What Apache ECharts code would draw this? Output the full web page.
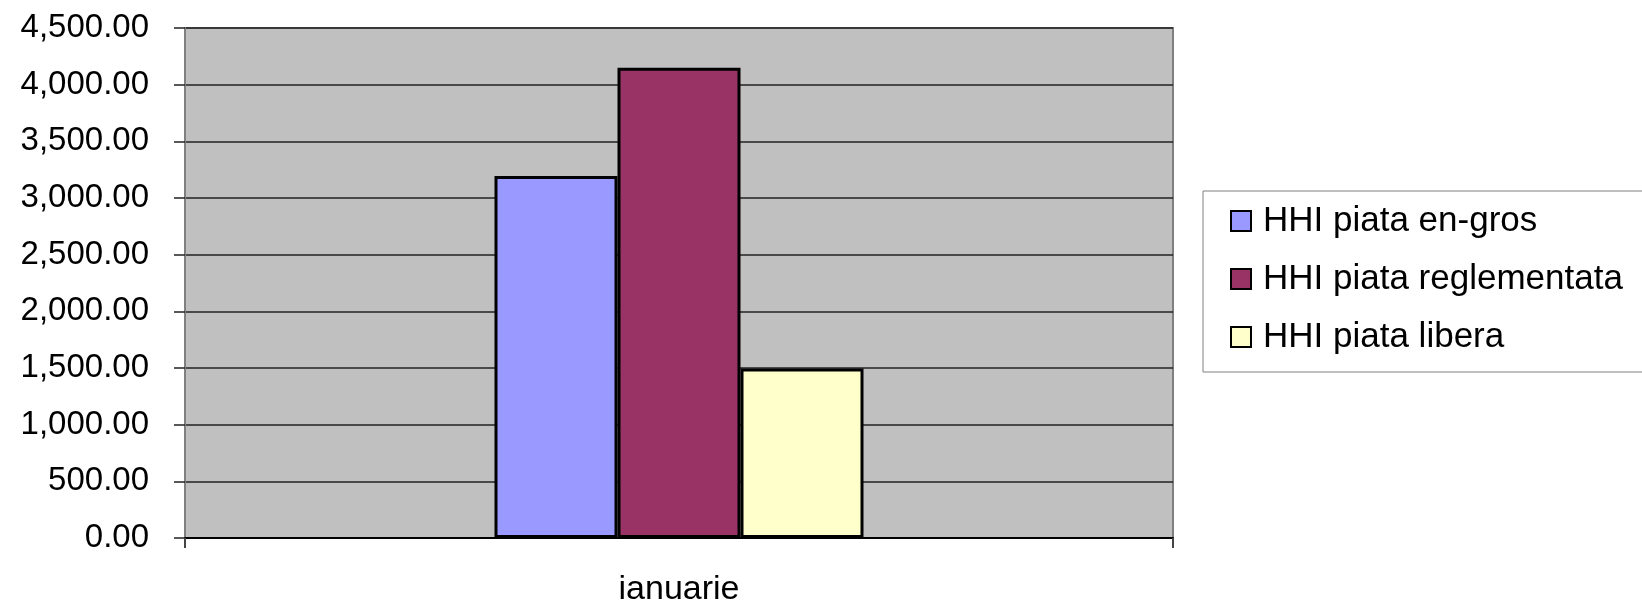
<!DOCTYPE html>
<html>
<head>
<meta charset="utf-8">
<script src="https://cdn.jsdelivr.net/npm/echarts@6/dist/echarts.min.js"></script>
<style>html,body{margin:0;padding:0;background:#fff}#c{width:1642px;height:607px}</style>
</head>
<body>
<div id="c"></div>
<script>
const categories = ['ianuarie'];
const seriesNames = ['HHI piata en-gros', 'HHI piata reglementata', 'HHI piata libera'];
const enGros = [3195];
const reglementata = [4150];
const libera = [1495];
const colors = ['#9999FF', '#993366', '#FFFFCC'];

const chart = echarts.init(document.getElementById('c'));
const FONT = 'Liberation Sans, Arial, sans-serif';
const mk = (name, data, color) => ({
  name, type: 'bar', data,
  barWidth: 123, barGap: '0%',
  itemStyle: { color, borderColor: '#000', borderWidth: 3 },
  emphasis: { disabled: true }
});
chart.setOption({
  animation: false,
  grid: { left: 185, top: 28, width: 988, height: 510, show: true, backgroundColor: '#C0C0C0', borderColor: '#808080', borderWidth: 2 },
  legend: {
    orient: 'vertical', left: 1203, top: 191,
    padding: [10, 30, 15, 27],
    itemWidth: 20, itemHeight: 20, itemGap: 18,
    icon: 'rect',
    borderColor: '#808080', borderWidth: 1, backgroundColor: '#fff',
    itemStyle: { borderColor: '#000', borderWidth: 2 },
    textStyle: { fontFamily: FONT, fontSize: 35, color: '#000', lineHeight: 40, padding: [0, 0, 0, 7] },
    data: seriesNames
  },
  xAxis: {
    type: 'category', data: categories,
    axisLine: { lineStyle: { color: '#000', width: 2 } },
    axisTick: { show: true, length: 10, lineStyle: { color: '#444', width: 2 } },
    axisLabel: { fontFamily: FONT, fontSize: 34, color: '#000', margin: 35 }
  },
  yAxis: {
    type: 'value', min: 0, max: 4500, interval: 500,
    axisLine: { show: true, lineStyle: { color: '#808080', width: 2 } },
    axisTick: { show: true, length: 11, lineStyle: { color: '#222', width: 1.5 } },
    splitLine: { lineStyle: { color: '#222', width: 1.5 } },
    axisLabel: {
      fontFamily: FONT, fontSize: 33, color: '#000', margin: 36,
      formatter: v => v.toLocaleString('en-US', { minimumFractionDigits: 2, maximumFractionDigits: 2 })
    }
  },
  series: [
    mk(seriesNames[0], enGros, colors[0]),
    mk(seriesNames[1], reglementata, colors[1]),
    mk(seriesNames[2], libera, colors[2])
  ]
});
</script>
</body>
</html>
